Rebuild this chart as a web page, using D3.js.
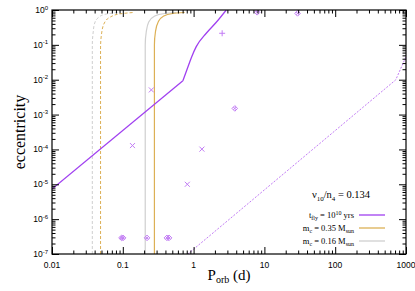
<!DOCTYPE html>
<html>
<head>
<meta charset="utf-8">
<script src="https://cdn.jsdelivr.net/npm/d3@7"></script>
<style>
  body { margin: 0; background: #fff; }
  svg { display: block; }
</style>
</head>
<body>
<svg width="415" height="291"></svg>
<script>
// --- data (P in days, e) ---
var xTickValues = [0.01, 0.1, 1, 10, 100, 1000];
var xTickLabels = ["0.01", "0.1", "1", "10", "100", "1000"];
var yTickValues = [1, 1e-1, 1e-2, 1e-3, 1e-4, 1e-5, 1e-6, 1e-7];
var yTickExps = ["0", "-1", "-2", "-3", "-4", "-5", "-6", "-7"];

// t_fly = 1e10 yr, solid purple
var flyStraight = [[0.01, 7.3e-6], [0.706, 9.3e-3]];
var flyBend = [[0.706, 9.3e-3], [0.831, 0.0233], [0.938, 0.045], [1.09, 0.0888], [1.51, 0.215], [2.09, 0.444], [2.89, 1.0]];
// dashed purple
var flyDashed = [[0.83, 1e-7], [716, 9.9e-3], [1000, 0.046]];

// m_c = 0.35 Msun (orange), m_c = 0.16 Msun (grey); solid and dashed
var orangeSolid = [[0.2796, 1e-7], [0.2796, 0.0993], [0.289, 0.234], [0.316, 0.453], [0.378, 0.673], [0.506, 0.794], [0.746, 0.848]];
var greySolid = [[0.2074, 1e-7], [0.2074, 0.0993], [0.2143, 0.234], [0.2323, 0.453], [0.2825, 0.673], [0.391, 0.794], [0.570, 0.848]];
var orangeDashed = [[0.0485, 1e-7], [0.0485, 0.0815], [0.0503, 0.219], [0.0549, 0.424], [0.0667, 0.630], [0.0922, 0.778], [0.1396, 0.848]];
var greyDashed = [[0.0371, 1e-7], [0.0371, 0.0993], [0.0382, 0.234], [0.0397, 0.397], [0.0445, 0.590], [0.0558, 0.753], [0.0865, 0.848]];

// observed systems
var crossPts = [[0.253, 5.1e-3], [0.137, 1.29e-4], [1.31, 1.02e-4], [0.815, 1.0e-5]];
var plusPts = [[2.53, 0.215]];
var diamondPts = [[3.82, 1.5e-3], [7.9, 0.86], [29.4, 0.80], [0.096, 2.9e-7], [0.101, 2.9e-7], [0.22, 2.9e-7], [0.42, 2.9e-7], [0.45, 2.9e-7]];

var legendLabels = ["fly", "0.35", "0.16"];

var purple = '#a040f0', purpleLight = '#c27cf5', orange = '#dcb055', grey = '#cfcfcf';

var svg = d3.select('svg');
var pL = 52, pR = 406, pT = 10, pB = 254;

var x = d3.scaleLog().domain([0.01, 1000]).range([pL, pR]);
var y = d3.scaleLog().domain([1e-7, 1]).range([pB, pT]);

svg.append('clipPath').attr('id', 'clip').append('rect')
  .attr('x', pL).attr('y', pT).attr('width', pR - pL).attr('height', pB - pT);

var plot = svg.append('g').attr('clip-path', 'url(#clip)');

var line = d3.line().x(function(d) { return x(d[0]); }).y(function(d) { return y(d[1]); });

function draw(data, color, width, dash, curve) {
  var p = plot.append('path').datum(data)
    .attr('fill', 'none').attr('stroke', color).attr('stroke-width', width)
    .attr('d', line.curve(curve || d3.curveLinear));
  if (dash) p.attr('stroke-dasharray', dash);
  return p;
}

draw(greyDashed, grey, 1, '3,2', d3.curveMonotoneY);
draw(orangeDashed, orange, 1, '3,2', d3.curveMonotoneY);
draw(greySolid, grey, 1.2, null, d3.curveMonotoneY);
draw(orangeSolid, orange, 1.2, null, d3.curveMonotoneY);
draw(flyDashed, purpleLight, 1, '2,1.5');
draw(flyStraight, purple, 1.3);
draw(flyBend, purple, 1.3, null, d3.curveMonotoneX);

// markers
crossPts.forEach(function(d) {
  var cx = x(d[0]), cy = y(d[1]), s = 2.5;
  plot.append('path').attr('d', 'M' + (cx - s) + ',' + (cy - s) + 'L' + (cx + s) + ',' + (cy + s) + 'M' + (cx - s) + ',' + (cy + s) + 'L' + (cx + s) + ',' + (cy - s))
    .attr('stroke', purpleLight).attr('stroke-width', 1).attr('fill', 'none');
});
plusPts.forEach(function(d) {
  var cx = x(d[0]), cy = y(d[1]), s = 3;
  plot.append('path').attr('d', 'M' + (cx - s) + ',' + cy + 'L' + (cx + s) + ',' + cy + 'M' + cx + ',' + (cy - s) + 'L' + cx + ',' + (cy + s))
    .attr('stroke', purpleLight).attr('stroke-width', 1).attr('fill', 'none');
});
diamondPts.forEach(function(d) {
  var cx = x(d[0]), cy = y(d[1]), s = 2.8;
  plot.append('path').attr('d', 'M' + (cx - s) + ',' + cy + 'L' + cx + ',' + (cy - s) + 'L' + (cx + s) + ',' + cy + 'L' + cx + ',' + (cy + s) + 'Z' +
      'M' + (cx - s / 2) + ',' + (cy - s / 2) + 'L' + (cx + s / 2) + ',' + (cy + s / 2) + 'M' + (cx - s / 2) + ',' + (cy + s / 2) + 'L' + (cx + s / 2) + ',' + (cy - s / 2))
    .attr('stroke', purpleLight).attr('stroke-width', 1).attr('fill', 'none');
});

// axes: ticks inside on all four sides
var xMinor = x.ticks().filter(function(t) { return xTickValues.indexOf(t) < 0; });
var yMinor = y.ticks().filter(function(t) { return yTickValues.indexOf(t) < 0; });

function axisPair(gen, scale, pos, major, minor) {
  svg.append('g').attr('transform', pos)
    .call(gen(scale).tickValues(major).tickSize(-7).tickFormat(''))
    .call(function(g) { g.select('.domain').remove(); });
  svg.append('g').attr('transform', pos)
    .call(gen(scale).tickValues(minor).tickSize(-3.5).tickFormat(''))
    .call(function(g) { g.select('.domain').remove(); });
}
axisPair(d3.axisBottom, x, 'translate(0,' + pB + ')', xTickValues, xMinor);
axisPair(d3.axisTop, x, 'translate(0,' + pT + ')', xTickValues, xMinor);
axisPair(d3.axisLeft, y, 'translate(' + pL + ',0)', yTickValues, yMinor);
axisPair(d3.axisRight, y, 'translate(' + pR + ',0)', yTickValues, yMinor);
svg.selectAll('.tick line').attr('stroke', '#000').attr('stroke-width', 1);

svg.append('rect').attr('x', pL).attr('y', pT).attr('width', pR - pL).attr('height', pB - pT)
  .attr('fill', 'none').attr('stroke', '#000').attr('stroke-width', 1.2);

// tick labels
var sans = 'Liberation Sans, Arial, sans-serif', serif = 'Liberation Serif, Times New Roman, serif';
xTickValues.forEach(function(v, i) {
  svg.append('text').attr('x', x(v)).attr('y', pB + 14).attr('text-anchor', 'middle')
    .attr('font-family', sans).attr('font-size', 8.5).text(xTickLabels[i]);
});
yTickValues.forEach(function(v, i) {
  var t = svg.append('text').attr('x', pL - 4).attr('y', y(v) + 3).attr('text-anchor', 'end')
    .attr('font-family', sans).attr('font-size', 8.5);
  t.append('tspan').text('10');
  t.append('tspan').attr('dy', -3.5).attr('font-size', 6).text(yTickExps[i]);
});

// axis titles
svg.append('text').attr('transform', 'translate(25,' + ((pT + pB) / 2) + ') rotate(-90)')
  .attr('text-anchor', 'middle').attr('font-family', serif).attr('font-size', 16).text('eccentricity');
var xt = svg.append('text').attr('x', (pL + pR) / 2).attr('y', 280).attr('text-anchor', 'middle')
  .attr('font-family', serif).attr('font-size', 15);
xt.append('tspan').text('P');
xt.append('tspan').attr('dy', 3).attr('font-size', 10).text('orb');
xt.append('tspan').attr('dy', -3).text(' (d)');

// legend
var lt = svg.append('text').attr('x', 341).attr('y', 198).attr('text-anchor', 'middle')
  .attr('font-family', serif).attr('font-size', 10.5);
lt.append('tspan').text('ν');
lt.append('tspan').attr('dy', 2.5).attr('font-size', 7).text('10');
lt.append('tspan').attr('dy', -2.5).text('/n');
lt.append('tspan').attr('dy', 2.5).attr('font-size', 7).text('4');
lt.append('tspan').attr('dy', -2.5).text(' = 0.134');

var legColors = [purple, orange, grey];
legendLabels.forEach(function(k, i) {
  var ly = 215 + i * 13;
  var t = svg.append('text').attr('x', 354).attr('y', ly + 3).attr('text-anchor', 'end')
    .attr('font-family', serif).attr('font-size', 8.5);
  if (k === 'fly') {
    t.append('tspan').text('t');
    t.append('tspan').attr('dy', 2).attr('font-size', 6).text('fly');
    t.append('tspan').attr('dy', -2).text(' = 10');
    t.append('tspan').attr('dy', -3).attr('font-size', 6).text('10');
    t.append('tspan').attr('dy', 3).text(' yrs');
  } else {
    t.append('tspan').text('m');
    t.append('tspan').attr('dy', 2).attr('font-size', 6).text('c');
    t.append('tspan').attr('dy', -2).text(' = ' + k + ' M');
    t.append('tspan').attr('dy', 2).attr('font-size', 6).text('sun');
  }
  svg.append('line').attr('x1', 359).attr('x2', 385).attr('y1', ly).attr('y2', ly)
    .attr('stroke', legColors[i]).attr('stroke-width', 1.3);
});
</script>
</body>
</html>
